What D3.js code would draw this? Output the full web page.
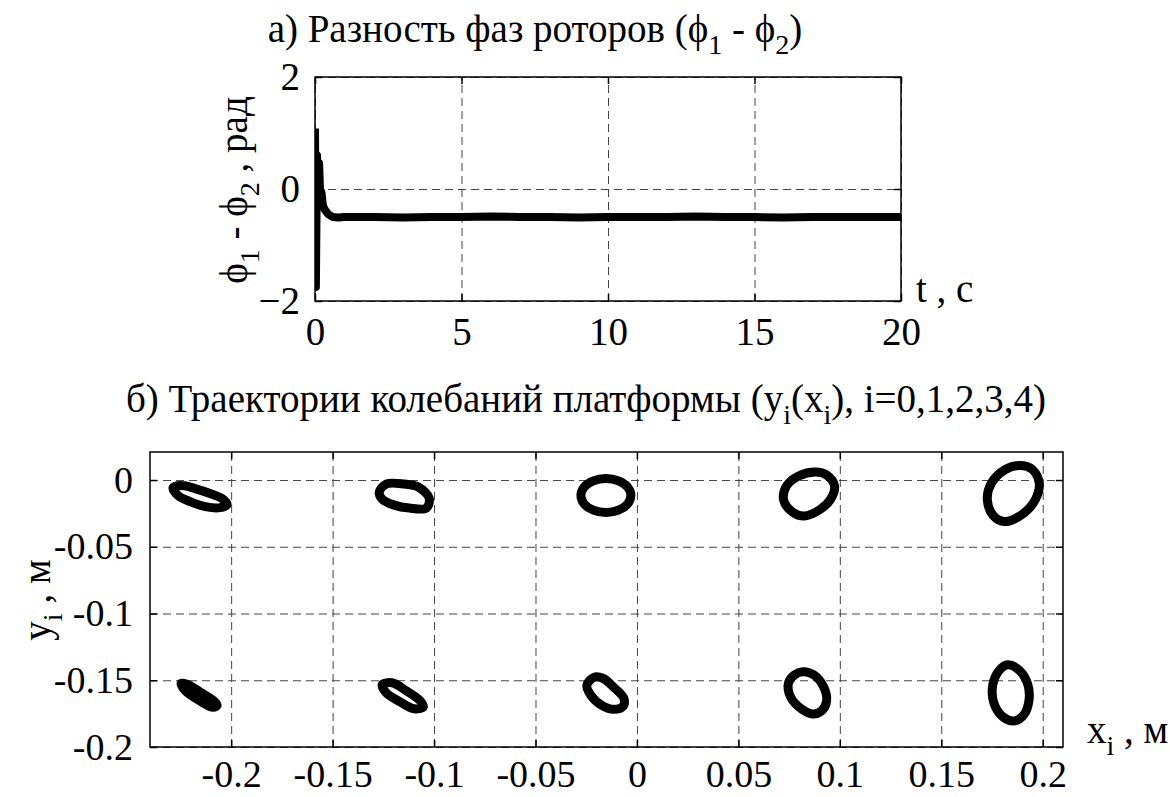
<!DOCTYPE html>
<html>
<head>
<meta charset="utf-8">
<script src="https://cdn.jsdelivr.net/npm/d3@7"></script>
<style>
body { margin: 0; background: #fff; }
</style>
</head>
<body>
<script>
//page size
var w = 1170, h = 797;

//a) phase difference of the rotors, rad
var phaseT = [0, 0.03, 0.07, 0.1, 0.14, 0.18, 0.22, 0.27, 0.35, 0.45, 0.6, 0.8, 1, 2, 3, 4, 5, 6, 7, 8, 9, 10,
              11, 12, 13, 14, 15, 16, 17, 18, 19, 20];
var phaseV = [1.08, -1.75, 0.6, -0.3, 0.46, -0.15, -0.05, -0.3, -0.38, -0.45, -0.5, -0.51, -0.5, -0.5, -0.51, -0.5,
              -0.5, -0.49, -0.5, -0.5, -0.51, -0.5, -0.5, -0.5, -0.49, -0.5, -0.5, -0.51, -0.5, -0.5, -0.5, -0.5];
var tTicks = [0, 5, 10, 15, 20];
var phaseTicks = [-2, 0, 2];

//b) platform trajectories y_i(x_i), m  (upper row then lower row, i = 0..4)
var trajX = [
    [-0.2286, -0.2242, -0.2178, -0.2104, -0.2044, -0.2020, -0.2054, -0.2128, -0.2202, -0.2262],
    [-0.1270, -0.1236, -0.1147, -0.1078, -0.1024, -0.1038, -0.1122, -0.1196, -0.1256],
    [-0.0030, -0.0046, -0.0091, -0.0153, -0.0215, -0.0260, -0.0276, -0.0260, -0.0215, -0.0153, -0.0091, -0.0046],
    [0.0881, 0.0935, 0.0974, 0.0955, 0.0905, 0.0826, 0.0767, 0.0723, 0.0737, 0.0797],
    [0.1894, 0.1949, 0.1983, 0.1964, 0.1904, 0.1811, 0.1756, 0.1727, 0.1746, 0.1816],
    [-0.2247, -0.2217, -0.2158, -0.2089, -0.2069, -0.2089, -0.2158, -0.2227],
    [-0.1256, -0.1206, -0.1137, -0.1068, -0.1053, -0.1098, -0.1167, -0.1236],
    [-0.0212, -0.0168, -0.0114, -0.0064, -0.0069, -0.0114, -0.0173, -0.0227, -0.0247],
    [0.0816, 0.0871, 0.0920, 0.0935, 0.0910, 0.0866, 0.0811, 0.0757, 0.0747, 0.0777],
    [0.1828, 0.1887, 0.1927, 0.1932, 0.1907, 0.1863, 0.1804, 0.1759, 0.1754, 0.1784]
];
var trajY = [
    [-0.0056, -0.0041, -0.0064, -0.0101, -0.0139, -0.0184, -0.0207, -0.0199, -0.0162, -0.0116],
    [-0.0090, -0.0030, -0.0030, -0.0052, -0.0135, -0.0210, -0.0210, -0.0188, -0.0143],
    [-0.0116, -0.0052, -0.0006, 0.0012, -0.0006, -0.0052, -0.0116, -0.0180, -0.0226, -0.0244, -0.0226, -0.0180],
    [0.0060, 0.0038, -0.0045, -0.0143, -0.0218, -0.0270, -0.0240, -0.0150, -0.0045, 0.0030],
    [0.0109, 0.0079, -0.0026, -0.0146, -0.0251, -0.0311, -0.0266, -0.0146, -0.0026, 0.0079],
    [-0.1523, -0.1530, -0.1583, -0.1651, -0.1688, -0.1703, -0.1651, -0.1576],
    [-0.1534, -0.1519, -0.1579, -0.1654, -0.1699, -0.1714, -0.1662, -0.1594],
    [-0.1478, -0.1485, -0.1553, -0.1636, -0.1696, -0.1718, -0.1688, -0.1613, -0.1538],
    [-0.1436, -0.1459, -0.1549, -0.1654, -0.1729, -0.1752, -0.1714, -0.1624, -0.1519, -0.1459],
    [-0.1384, -0.1429, -0.1534, -0.1654, -0.1759, -0.1804, -0.1774, -0.1669, -0.1534, -0.1429]
];
var xTicks = [-0.2, -0.15, -0.1, -0.05, 0, 0.05, 0.1, 0.15, 0.2];
var xTickLabels = ["-0.2", "-0.15", "-0.1", "-0.05", "0", "0.05", "0.1", "0.15", "0.2"];
var yTicks = [-0.2, -0.15, -0.1, -0.05, 0];
var yTickLabels = ["-0.2", "-0.15", "-0.1", "-0.05", "0"];

var fs = 39; //font size of titles and labels
var serif = "'Liberation Serif', 'Times New Roman', serif";

var svg = d3.select("body")
    .append("svg")
    .attr("width", w)
    .attr("height", h);

//frame, grid and ticks of one axes box
function drawBox(x, y, xt, yt, xfmt, yfmt, padX, padY, tfs) {
    var x0 = x.range()[0], x1 = x.range()[1];
    var y0 = y.range()[0], y1 = y.range()[1];
    var g = svg.append("g");

    //dashed grid
    g.append("g")
        .attr("transform", "translate(0," + y0 + ")")
        .call(d3.axisBottom(x).tickValues(xt).tickSize(-(y0 - y1)).tickFormat(""))
        .call(function(s){ s.select(".domain").remove(); })
        .selectAll("line")
        .attr("stroke", "#444")
        .attr("stroke-dasharray", "8,5");
    g.append("g")
        .attr("transform", "translate(" + x0 + ",0)")
        .call(d3.axisLeft(y).tickValues(yt).tickSize(-(x1 - x0)).tickFormat(""))
        .call(function(s){ s.select(".domain").remove(); })
        .selectAll("line")
        .attr("stroke", "#444")
        .attr("stroke-dasharray", "8,5");

    //inner ticks on all four sides
    var tk = 7;
    [[d3.axisBottom(x), "translate(0," + y0 + ")", xt],
     [d3.axisTop(x), "translate(0," + y1 + ")", xt],
     [d3.axisLeft(y), "translate(" + x0 + ",0)", yt],
     [d3.axisRight(y), "translate(" + x1 + ",0)", yt]].forEach(function(a){
        g.append("g")
            .attr("transform", a[1])
            .call(a[0].tickValues(a[2]).tickSize(-tk).tickFormat(""))
            .call(function(s){ s.select(".domain").remove(); })
            .selectAll("line")
            .attr("stroke", "#000")
            .attr("stroke-width", 1.5);
    });

    //tick labels (font set after the axis call, which writes its own defaults)
    g.append("g")
        .attr("transform", "translate(0," + y0 + ")")
        .call(d3.axisBottom(x).tickValues(xt).tickSize(0).tickPadding(padX).tickFormat(xfmt))
        .call(function(s){ s.select(".domain").remove(); })
        .attr("font-family", serif)
        .attr("font-size", tfs);
    g.append("g")
        .attr("transform", "translate(" + x0 + ",0)")
        .call(d3.axisLeft(y).tickValues(yt).tickSize(0).tickPadding(padY).tickFormat(yfmt))
        .call(function(s){ s.select(".domain").remove(); })
        .attr("font-family", serif)
        .attr("font-size", tfs);

    //frame
    g.append("rect")
        .attr("x", x0)
        .attr("y", y1)
        .attr("width", x1 - x0)
        .attr("height", y0 - y1)
        .attr("fill", "none")
        .attr("stroke", "#000")
        .attr("stroke-width", 1.5);
    return g;
}

//text with subscripts: parts = [[string, isSub, backUp], ...]
function richText(parent, parts, x, y, anchor, rot) {
    var t = parent.append("text")
        .attr("x", x)
        .attr("y", y)
        .attr("text-anchor", anchor)
        .attr("font-family", serif)
        .attr("font-size", fs);
    if (rot) t.attr("transform", "rotate(" + rot + "," + x + "," + y + ")");
    parts.forEach(function(p){
        var ts = t.append("tspan").text(p[0]);
        if (p[1]) ts.attr("dy", 12).attr("font-size", fs * 0.72);
        else if (p[2]) ts.attr("dy", -12);
    });
    return t;
}

// ---------- a) phase difference ----------
var xa = d3.scaleLinear().domain([0, 20]).range([315, 901]);
var ya = d3.scaleLinear().domain([-2, 2]).range([301, 77]);

svg.append("clipPath").attr("id", "clipA")
    .append("rect").attr("x", 315).attr("y", 77).attr("width", 586).attr("height", 224);

drawBox(xa, ya, tTicks, phaseTicks, d3.format("d"), d3.format("d"), 16, 15, fs);

var phaseLine = d3.line()
    .x(function(d){ return xa(d[0]); })
    .y(function(d){ return ya(d[1]); });

svg.append("path")
    .datum(phaseT.map(function(t, i){ return [t, phaseV[i]]; }))
    .attr("clip-path", "url(#clipA)")
    .attr("d", phaseLine)
    .attr("fill", "none")
    .attr("stroke", "#000")
    .attr("stroke-width", 8)
    .attr("stroke-linejoin", "round");

richText(svg, [["а) Разность фаз роторов (ϕ"], ["1", true], [" - ϕ", false, true], ["2", true], [")", false, true]],
    535, 42, "middle");
richText(svg, [["ϕ"], ["1", true], [" - ϕ", false, true], ["2", true], [" , рад", false, true]],
    247, 190, "middle", -90);
richText(svg, [["t , c"]], 916, 302, "start");

// ---------- b) trajectories ----------
var xb = d3.scaleLinear().domain([-0.24, 0.21]).range([150, 1063]);
var yb = d3.scaleLinear().domain([-0.2, 0.021]).range([747, 452]);

drawBox(xb, yb, xTicks, yTicks,
    function(d, i){ return xTickLabels[i]; },
    function(d, i){ return yTickLabels[i]; }, 13, 17, 38);

var trajLine = d3.line()
    .x(function(d){ return xb(d[0]); })
    .y(function(d){ return yb(d[1]); })
    .curve(d3.curveCatmullRomClosed.alpha(0.5));

svg.append("g")
    .selectAll(".traj")
    .data(trajX.map(function(xs, k){ return xs.map(function(v, j){ return [v, trajY[k][j]]; }); }))
    .enter()
    .append("path")
    .attr("class", "traj")
    .attr("d", trajLine)
    .attr("fill", "none")
    .attr("stroke", "#000")
    .attr("stroke-width", 9)
    .attr("stroke-linejoin", "round");

richText(svg, [["б) Траектории колебаний платформы (y"], ["i", true], ["(x", false, true], ["i", true],
    ["), i=0,1,2,3,4)", false, true]], 586, 412, "middle");
richText(svg, [["y"], ["i", true], [" , м", false, true]], 50, 600, "middle", -90);
richText(svg, [["x"], ["i", true], [" , м", false, true]], 1087, 743, "start");
</script>
</body>
</html>
